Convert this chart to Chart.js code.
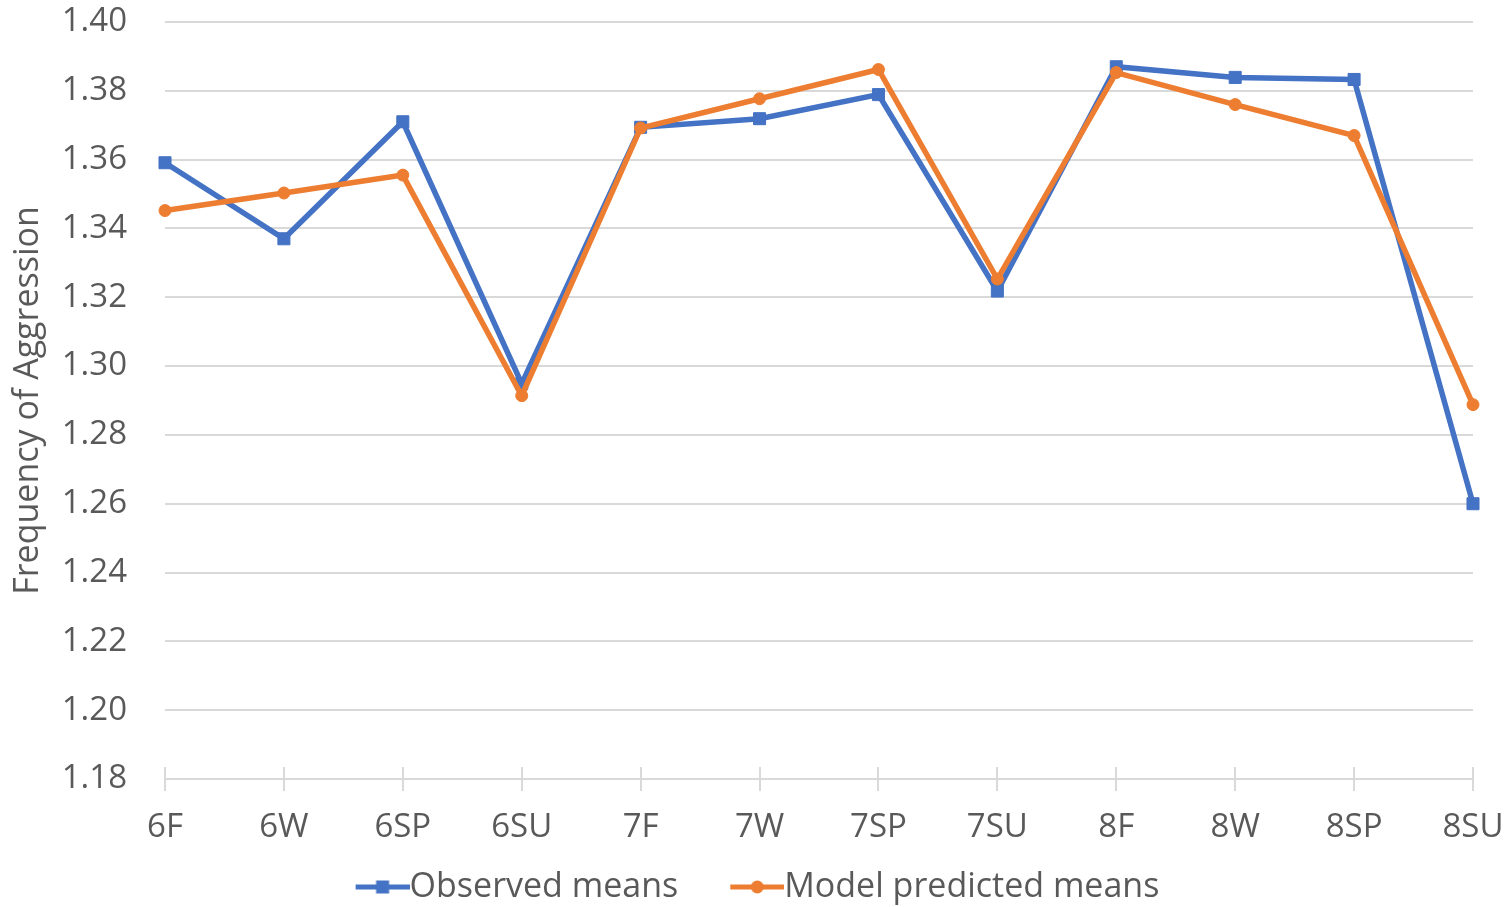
<!DOCTYPE html>
<html>
<head>
<meta charset="utf-8">
<script src="https://cdn.jsdelivr.net/npm/chart.js@4/dist/chart.umd.min.js"></script>
<style>
  html, body { margin: 0; padding: 0; background: #ffffff; }
  #wrap { width: 1506px; height: 907px; position: relative; }
</style>
</head>
<body>
<div id="wrap"><canvas id="chart" width="1506" height="907"></canvas></div>
<script>
// Survey waves (grade + season)
const waves = ['6F', '6W', '6SP', '6SU', '7F', '7W', '7SP', '7SU', '8F', '8W', '8SP', '8SU'];

// Mean frequency of aggression per wave
const observedMeans = [1.3591, 1.3370, 1.3710, 1.2949, 1.3694, 1.3719, 1.3789, 1.3218, 1.3870, 1.3839, 1.3833, 1.2600];
const predictedMeans = [1.3452, 1.3503, 1.3555, 1.2914, 1.3692, 1.3777, 1.3862, 1.3253, 1.3853, 1.3760, 1.3670, 1.2888];

// Value axis
const yMin = 1.18;
const yMax = 1.40;
const yStep = 0.02;

const BLUE = '#4472C4';
const ORANGE = '#ED7D31';
const TEXT = '#595959';
const GRID = '#d9d9d9';
const FONT = "'Open Sans', 'Liberation Sans', sans-serif";
const LEGEND_SIZE = 34;

// Legend swatch: a short line with the series marker in the middle.
// The box is wider than the drawn line so the blank part spaces the items.
const BOX_W = 79;
function legendSwatch(color, marker) {
  const half = LEGEND_SIZE / 2;
  const w = BOX_W + 2 * half;
  const c = document.createElement('canvas');
  c.width = w; c.height = 24;
  const g = c.getContext('2d');
  g.strokeStyle = color; g.fillStyle = color; g.lineWidth = 5; g.lineCap = 'butt';
  g.beginPath(); g.moveTo(w - 54, 12); g.lineTo(w, 12); g.stroke();
  const mx = w - 27;
  if (marker === 'rect') {
    g.fillRect(mx - 6.5, 12 - 6.5, 13, 13);
  } else {
    g.beginPath(); g.arc(mx, 12, 6.5, 0, Math.PI * 2); g.fill();
  }
  return c;
}
const swatches = [legendSwatch(BLUE, 'rect'), legendSwatch(ORANGE, 'circle')];

// Category axis line with small tick marks crossing it
const categoryAxisLine = {
  id: 'categoryAxisLine',
  beforeDatasetsDraw(chart) {
    const x = chart.scales.x;
    const a = chart.chartArea;
    const ctx = chart.ctx;
    ctx.save();
    ctx.strokeStyle = GRID;
    ctx.lineWidth = 2;
    ctx.beginPath();
    ctx.moveTo(a.left, a.bottom);
    ctx.lineTo(a.right, a.bottom);
    x.ticks.forEach((t, i) => {
      const px = Math.round(x.getPixelForTick(i));
      ctx.moveTo(px, a.bottom - 12);
      ctx.lineTo(px, a.bottom + 12);
    });
    ctx.stroke();
    ctx.restore();
  }
};

new Chart(document.getElementById('chart'), {
  type: 'line',
  data: {
    labels: waves,
    datasets: [
      {
        label: 'Observed means',
        data: observedMeans,
        borderColor: BLUE,
        backgroundColor: BLUE,
        borderWidth: 5.5,
        pointStyle: 'rect',
        pointRadius: 8.5,
        pointBorderWidth: 1,
        tension: 0,
        order: 2
      },
      {
        label: 'Model predicted means',
        data: predictedMeans,
        borderColor: ORANGE,
        backgroundColor: ORANGE,
        borderWidth: 5.5,
        pointStyle: 'circle',
        pointRadius: 6,
        pointBorderWidth: 1,
        tension: 0,
        order: 1
      }
    ]
  },
  options: {
    responsive: false,
    animation: false,
    devicePixelRatio: 1,
    layout: { padding: { top: 22, right: 33, left: 0, bottom: -7 } },
    plugins: {
      tooltip: { enabled: false },
      legend: {
        position: 'bottom',
        labels: {
          usePointStyle: true,
          pointStyleWidth: BOX_W,
          padding: 10,
          color: TEXT,
          font: { family: FONT, size: LEGEND_SIZE },
          sort: (a, b) => a.datasetIndex - b.datasetIndex,
          generateLabels(chart) {
            const items = Chart.defaults.plugins.legend.labels.generateLabels(chart);
            items.forEach((it) => { it.pointStyle = swatches[it.datasetIndex]; });
            return items;
          }
        }
      }
    },
    scales: {
      x: {
        offset: false,
        afterFit(scale) {
          scale.height = 81;
          scale.paddingLeft = 0;
          scale.paddingRight = 0;
        },
        grid: { display: false, drawTicks: false },
        border: { display: false },
        ticks: {
          color: TEXT,
          font: { family: FONT, size: 33 },
          padding: 29,
          maxRotation: 0,
          autoSkip: false
        }
      },
      y: {
        min: yMin,
        max: yMax,
        afterFit(scale) {
          scale.width = 165;
          scale.paddingTop = 0;
          scale.paddingBottom = 0;
        },
        afterBuildTicks(scale) {
          const t = [];
          for (let i = 0; i <= Math.round((yMax - yMin) / yStep); i++) {
            t.push({ value: +(yMin + i * yStep).toFixed(2) });
          }
          scale.ticks = t;
        },
        grid: { color: GRID, lineWidth: 2, drawTicks: false },
        border: { display: false },
        ticks: {
          color: TEXT,
          font: { family: FONT, size: 33 },
          padding: 38,
          callback: (v) => Number(v).toFixed(2)
        },
        title: {
          display: true,
          text: 'Frequency of Aggression',
          color: TEXT,
          font: { family: FONT, size: 34 },
          padding: { top: 8, bottom: 0 }
        }
      }
    }
  },
  plugins: [categoryAxisLine]
});
</script>
</body>
</html>
